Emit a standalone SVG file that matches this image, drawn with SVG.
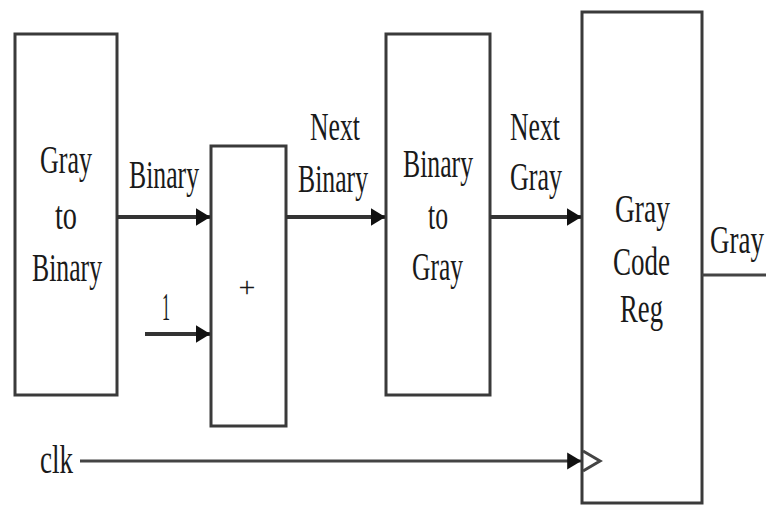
<svg xmlns="http://www.w3.org/2000/svg" width="766" height="507" viewBox="0 0 766 507">
<style>
.box{fill:#fff;stroke:#3a3a3a;stroke-width:3}
.t{font-family:"Liberation Serif","Times New Roman",serif;font-size:40px;fill:#1a1a1a}
.w{stroke:#333;stroke-width:4;fill:none}
.thin{stroke:#444;stroke-width:3;fill:none}
</style>
<defs>
<marker id="ah" markerWidth="5" markerHeight="6" refX="3.5" refY="3" orient="auto" markerUnits="strokeWidth">
<path d="M0,0.8 L3.6,3 L0,5.2 Z" fill="#111"/>
</marker>
<marker id="ah2" markerWidth="6" markerHeight="6" refX="4.6" refY="3" orient="auto" markerUnits="strokeWidth">
<path d="M0,0.2 L4.7,3 L0,5.8 Z" fill="#111"/>
</marker>
</defs>
<rect width="766" height="507" fill="#fff"/>
<g id="g2b">
<rect class="box" x="15" y="34" width="102" height="361"/>
<text class="t" x="40" y="173" textLength="52" lengthAdjust="spacingAndGlyphs">Gray</text>
<text class="t" x="55" y="229" textLength="22" lengthAdjust="spacingAndGlyphs">to</text>
<text class="t" x="32" y="281" textLength="70" lengthAdjust="spacingAndGlyphs">Binary</text>
</g>
<g id="adder">
<rect class="box" x="211" y="146" width="75" height="280"/>
<text class="t" x="247" y="297" text-anchor="middle" style="font-size:30px">+</text>
</g>
<g id="b2g">
<rect class="box" x="386" y="34" width="104" height="361"/>
<text class="t" x="403" y="177" textLength="70" lengthAdjust="spacingAndGlyphs">Binary</text>
<text class="t" x="428" y="229" textLength="20" lengthAdjust="spacingAndGlyphs">to</text>
<text class="t" x="412" y="280" textLength="51" lengthAdjust="spacingAndGlyphs">Gray</text>
</g>
<g id="reg">
<rect class="box" x="582" y="12" width="120" height="491"/>
<text class="t" x="615" y="222" textLength="55" lengthAdjust="spacingAndGlyphs">Gray</text>
<text class="t" x="613" y="275" textLength="57" lengthAdjust="spacingAndGlyphs">Code</text>
<text class="t" x="620" y="322" textLength="43" lengthAdjust="spacingAndGlyphs">Reg</text>
<path class="thin" d="M583,451 L600,461 L583,471" stroke-width="2"/>
</g>
<g id="connectors">
<line class="w" x1="117" y1="217" x2="210" y2="217" marker-end="url(#ah)"/>
<line class="w" x1="145" y1="334" x2="210" y2="334" marker-end="url(#ah)"/>
<line class="w" x1="286" y1="217" x2="385" y2="217" marker-end="url(#ah)"/>
<line class="w" x1="490" y1="217" x2="581" y2="217" marker-end="url(#ah)"/>
<line class="thin" x1="80" y1="461" x2="581" y2="461" marker-end="url(#ah2)"/>
<line class="thin" x1="702" y1="275" x2="766" y2="275"/>
</g>
<g id="labels">
<text class="t" x="129" y="188" textLength="70" lengthAdjust="spacingAndGlyphs">Binary</text>
<text class="t" x="162" y="320" textLength="8" lengthAdjust="spacingAndGlyphs">1</text>
<text class="t" x="310" y="140" textLength="50" lengthAdjust="spacingAndGlyphs">Next</text>
<text class="t" x="298" y="192" textLength="70" lengthAdjust="spacingAndGlyphs">Binary</text>
<text class="t" x="510" y="140" textLength="50" lengthAdjust="spacingAndGlyphs">Next</text>
<text class="t" x="510" y="190" textLength="52" lengthAdjust="spacingAndGlyphs">Gray</text>
<text class="t" transform="translate(710,253) scale(1,1.45)" style="font-size:27px">Gray</text>
<text class="t" x="40" y="473" textLength="33" lengthAdjust="spacingAndGlyphs">clk</text>
</g>
</svg>
